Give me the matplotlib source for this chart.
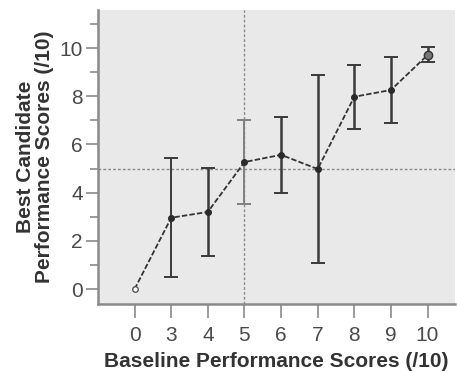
import matplotlib
matplotlib.use('Agg')
import matplotlib.pyplot as plt
from matplotlib.ticker import MultipleLocator

plt.rcParams['font.family'] = ['Liberation Sans', 'DejaVu Sans']

# data
categorias = ['0', '3', '4', '5', '6', '7', '8', '9', '10']
medias = [0.0, 2.96, 3.2, 5.27, 5.57, 4.98, 7.98, 8.26, 9.71]
limite_inf = [0.0, 0.49, 1.37, 3.53, 4.0, 1.09, 6.65, 6.89, 9.41]
limite_sup = [0.0, 5.44, 5.03, 7.01, 7.15, 8.88, 9.29, 9.64, 10.03]

x = list(range(len(categorias)))
erro_inf = [m - l for m, l in zip(medias, limite_inf)]
erro_sup = [u - m for m, u in zip(medias, limite_sup)]

fig = plt.figure(figsize=(4.57, 3.71), dpi=100)
ax = fig.add_axes([98 / 457, 1 - 304 / 371, (455 - 98) / 457, (304 - 10) / 371])
ax.set_facecolor('#e9e9e9')

# linhas de referencia
ax.axhline(5, color='#8a8a8a', lw=1, ls=(0, (2, 1.5)), zorder=1)
ax.axvline(3, color='#8a8a8a', lw=1, ls=(0, (2, 1.5)), zorder=1)

# barras de erro (a do 5 mais clara)
for i in range(1, len(x)):
    cor = '#808080' if i == 3 else '#3a3a3a'
    lw = 1.4 if i in (1, 3) else 1.8
    ax.errorbar(x[i], medias[i], yerr=[[erro_inf[i]], [erro_sup[i]]], fmt='none',
                ecolor=cor, elinewidth=lw, capsize=5, capthick=1.4, zorder=2)

ax.plot(x, medias, color='#333333', lw=1.3, ls=(0, (3, 1.2)), zorder=3)
ax.plot(x[1:-1], medias[1:-1], 'o', color='#2a2a2a', ms=4, zorder=4)
ax.plot(x[0], medias[0], 'o', mfc='white', mec='#555555', ms=4, mew=1, zorder=4)
ax.plot(x[-1], medias[-1], 'o', mfc='#777777', mec='#333333', ms=6, mew=1, zorder=4)

ax.set_xlim(-1.0, 8.75)
ax.set_ylim(-0.62, 11.58)
ax.set_xticks(x)
ax.set_xticklabels(categorias)
ax.set_yticks([0, 2, 4, 6, 8, 10])
ax.yaxis.set_minor_locator(MultipleLocator(1))

for lado in ['top', 'right']:
    ax.spines[lado].set_visible(False)
ax.spines['left'].set_color('#8a8a8a')
ax.spines['left'].set_linewidth(1.8)
ax.spines['bottom'].set_color('#8a8a8a')
ax.spines['bottom'].set_linewidth(1.8)

ax.tick_params(axis='y', which='major', length=9, width=1.2, color='#8a8a8a',
               labelsize=15, labelcolor='#4a4a4a', pad=2)
ax.tick_params(axis='y', which='minor', length=6, width=1.2, color='#8a8a8a')
ax.tick_params(axis='x', length=10, width=1.2, color='#8a8a8a',
               labelsize=15, labelcolor='#4a4a4a', pad=6)

ax.set_xlabel('Baseline Performance Scores (/10)', fontsize=15, fontweight='bold',
              color='#333333', labelpad=5)
ax.set_ylabel('Best Candidate\nPerformance Scores (/10)', fontsize=15, fontweight='bold',
              color='#333333', labelpad=4, linespacing=1.0)

fig.savefig('out.png', dpi=100)
